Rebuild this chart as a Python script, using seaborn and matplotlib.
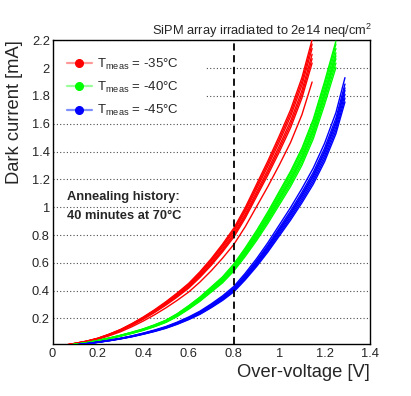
import numpy as np
import pandas as pd
import matplotlib
matplotlib.use("Agg")
import matplotlib.pyplot as plt
import seaborn as sns
from matplotlib.lines import Line2D
from matplotlib.patches import Rectangle
from matplotlib.ticker import MultipleLocator, FixedLocator, FuncFormatter

# ---------------- data ----------------
temps = ["-35", "-40", "-45"]

V_m35 = [0, 0.05, 0.1, 0.15, 0.2, 0.25, 0.3, 0.35, 0.4, 0.45, 0.5, 0.55, 0.6,
         0.65, 0.7, 0.75, 0.8, 0.85, 0.9, 0.95, 1.0, 1.05, 1.1, 1.145]
I_m35 = [0, 0.006, 0.02, 0.035, 0.055, 0.083, 0.115, 0.155, 0.2, 0.25, 0.305, 0.365, 0.43,
         0.51, 0.6, 0.7, 0.81, 0.95, 1.11, 1.27, 1.44, 1.62, 1.84, 2.1]
gain_m35 = [1.05, 1.035, 1.02, 1.0, 0.985, 0.97, 0.905]

V_m40 = [0, 0.05, 0.1, 0.15, 0.2, 0.25, 0.3, 0.35, 0.4, 0.45, 0.5, 0.55, 0.6,
         0.65, 0.7, 0.75, 0.8, 0.85, 0.9, 0.95, 1.0, 1.05, 1.1, 1.15, 1.2, 1.25]
I_m40 = [0, 0.004, 0.013, 0.025, 0.04, 0.057, 0.076, 0.097, 0.12, 0.148, 0.18, 0.225, 0.28,
         0.34, 0.41, 0.48, 0.57, 0.68, 0.8, 0.93, 1.07, 1.21, 1.37, 1.57, 1.83, 2.11]
gain_m40 = [1.04, 1.03, 1.015, 1.0, 0.99, 0.98, 0.965, 0.95]

V_m45 = [0, 0.05, 0.1, 0.15, 0.2, 0.25, 0.3, 0.35, 0.4, 0.45, 0.5, 0.55, 0.6,
         0.65, 0.7, 0.75, 0.8, 0.85, 0.9, 0.95, 1.0, 1.05, 1.1, 1.15, 1.2, 1.25, 1.29]
I_m45 = [0, 0.003, 0.009, 0.018, 0.029, 0.041, 0.055, 0.071, 0.09, 0.111, 0.135, 0.165, 0.2,
         0.24, 0.29, 0.345, 0.41, 0.5, 0.6, 0.71, 0.83, 0.95, 1.08, 1.22, 1.39, 1.6, 1.84]
gain_m45 = [1.05, 1.025, 1.01, 1.0, 0.985, 0.97, 0.955]

colors = {"-35": "#ff0000", "-40": "#00ff00", "-45": "#0000ff"}
legend_line_colors = {"-35": "#ff9a9a", "-40": "#9aff9a", "-45": "#7f8fff"}

x_ticks = [0, 0.2, 0.4, 0.6, 0.8, 1.0, 1.2, 1.4]
y_ticks = [0.2, 0.4, 0.6, 0.8, 1.0, 1.2, 1.4, 1.6, 1.8, 2.0, 2.2]
v_marker = 0.8

# ---------------- build long table ----------------
rows = []
for t, V, I, gains in [("-35", V_m35, I_m35, gain_m35),
                       ("-40", V_m40, I_m40, gain_m40),
                       ("-45", V_m45, I_m45, gain_m45)]:
    for ch, g in enumerate(gains):
        for v, i in zip(V, I):
            rows.append((t, ch, v, i * g))
df = pd.DataFrame(rows, columns=["temp", "ch", "V", "I"])

# ---------------- style ----------------
sns.set_style("white")
plt.rcParams["font.family"] = ["Liberation Sans", "DejaVu Sans"]
plt.rcParams["mathtext.fontset"] = "custom"
plt.rcParams["mathtext.rm"] = "Liberation Sans"
plt.rcParams["mathtext.it"] = "Liberation Sans:italic"
plt.rcParams["mathtext.bf"] = "Liberation Sans:bold"

fig = plt.figure(figsize=(4.11, 3.96), dpi=100)
ax = fig.add_axes([0.128, 0.131, 0.772, 0.767])

sns.lineplot(data=df, x="V", y="I", hue="temp", units="ch", estimator=None,
             palette=colors, hue_order=temps, lw=1.0, legend=False, sort=False,
             ax=ax, zorder=3)

ax.set_xlim(0, 1.4)
ax.set_ylim(0.015, 2.2)

# grid (horizontal dotted only)
ax.set_axisbelow(True)
ax.yaxis.grid(True, linestyle=(0, (1, 2)), color="0.3", lw=0.8)
ax.xaxis.grid(False)

# dashed marker line
ax.axvline(v_marker, color="black", ls=(0, (4, 2.5)), lw=1.3, zorder=4)

# ticks
ax.xaxis.set_major_locator(FixedLocator(x_ticks))
ax.yaxis.set_major_locator(FixedLocator(y_ticks))
ax.xaxis.set_minor_locator(MultipleLocator(0.05))
ax.yaxis.set_minor_locator(MultipleLocator(0.04))
fmt = FuncFormatter(lambda v, p: f"{v:g}")
ax.xaxis.set_major_formatter(fmt)
ax.yaxis.set_major_formatter(fmt)
ax.tick_params(which="both", direction="in", top=False, right=False,
               labelsize=9.3, color="black", width=0.8)
ax.tick_params(which="major", length=6)
ax.tick_params(which="minor", length=3)
ax.tick_params(axis="y", pad=2)
ax.tick_params(axis="x", pad=3)

for s in ax.spines.values():
    s.set_color("black")
    s.set_linewidth(1.0)

# axis labels
ax.set_xlabel("Over-voltage [V]", fontsize=13.2, loc="right")
ax.xaxis.set_label_coords(1.0, -0.066)
ax.set_ylabel("Dark current [mA]", fontsize=13.2, loc="top")
ax.yaxis.set_label_coords(-0.092, 1.0)

# title
ax.text(1.006, 1.018, "SiPM array irradiated to 2e14 neq/cm$^{2}$",
        transform=ax.transAxes, ha="right", va="baseline", fontsize=9.3)

# white box behind legend
ax.add_patch(Rectangle((0.003, 0.771), 0.48, 0.214, transform=ax.transAxes,
                       facecolor="white", edgecolor="none", zorder=1))

handles = [Line2D([], [], color=legend_line_colors[t], lw=1.6, marker="o",
                  markersize=5.5, markerfacecolor=colors[t],
                  markeredgecolor=colors[t]) for t in temps]
labels = [f"T$_{{\\mathregular{{meas}}}}$ = {t}°C" for t in temps]
ax.legend(handles, labels, loc="upper left", bbox_to_anchor=(0.045, 0.945),
          frameon=False, fontsize=9.5, handlelength=1.9, handletextpad=0.35,
          labelspacing=0.6, borderpad=0, borderaxespad=0)

# annealing note
ax.text(0.045, 0.484, "Annealing history:", transform=ax.transAxes,
        fontsize=9.3, fontweight="bold", va="center", ha="left")
ax.text(0.045, 0.422, "40 minutes at 70°C", transform=ax.transAxes,
        fontsize=9.3, fontweight="bold", va="center", ha="left")

fig.savefig("out.png", dpi=100)
